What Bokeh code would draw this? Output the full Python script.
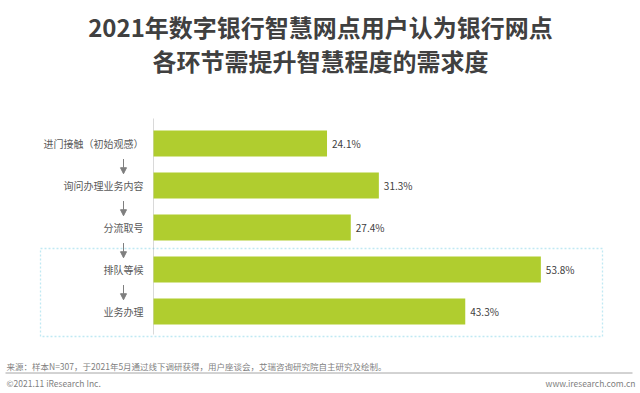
from bokeh.plotting import figure
from bokeh.models import Range1d, Label, Arrow, NormalHead, BoxAnnotation, ColumnDataSource
from bokeh.core.properties import value
from bokeh.embed import file_html
from bokeh.resources import INLINE

# ---- data ----
categories = ["进门接触（初始观感）", "询问办理业务内容", "分流取号", "排队等候", "业务办理"]
values = [24.1, 31.3, 27.4, 53.8, 43.3]
value_labels = ["24.1%", "31.3%", "27.4%", "53.8%", "43.3%"]
title_lines = ["2021年数字银行智慧网点用户认为银行网点", "各环节需提升智慧程度的需求度"]
source_text = "来源：样本N=307，于2021年5月通过线下调研获得，用户座谈会，艾瑞咨询研究院自主研究及绘制。"
copyright_text = "©2021.11 iResearch Inc."
site_text = "www.iresearch.com.cn"

W, H = 640, 393
PX_PER = 7.2          # pixels per percentage point
ZERO_X = 153          # canvas px of value 0
ROW = 42              # pixels per category row
FIRST_Y = 143         # canvas px of first row center

FONT = "Noto Sans CJK SC"
BAR = "#b0cd2f"


def X(px):  # canvas px -> data x
    return (px - ZERO_X) / PX_PER


def Y(py):  # canvas px -> data y
    return (py - FIRST_Y) / ROW


p = figure(width=W, height=H,
           x_range=Range1d(-ZERO_X / PX_PER, (W - ZERO_X) / PX_PER),
           y_range=Range1d((H - FIRST_Y) / ROW, -FIRST_Y / ROW),
           output_backend="svg", toolbar_location=None,
           x_axis_location=None, y_axis_location=None,
           min_border=0, outline_line_color=None)
p.grid.visible = False
p.background_fill_color = "white"
p.border_fill_color = "white"

idx = list(range(len(categories)))
src = ColumnDataSource(dict(y=idx, v=values, cat=categories, lab=value_labels))

# baseline (vertical axis line)
p.segment(x0=[0], y0=[Y(118)], x1=[0], y1=[Y(334)], line_color="#d9d9d9", line_width=1)

# bars
p.hbar(y="y", left=0, right="v", height=26 / ROW, source=src,
       fill_color=BAR, line_color=None)

# value labels
p.text(x="v", y="y", text="lab", source=src, x_offset=5,
       text_align="left", text_baseline="middle",
       text_font=value(FONT), text_font_size="10px", text_color="#404040")

# category labels
p.text(x=X(143), y="y", text="cat", source=src,
       text_align="right", text_baseline="middle",
       text_font=value(FONT), text_font_size="10px", text_color="#595959")

# arrows between steps
for i in range(len(categories) - 1):
    p.add_layout(Arrow(end=NormalHead(size=6, fill_color="#7f7f7f", line_color="#7f7f7f"),
                       x_start=X(123), x_end=X(123),
                       y_start=i + 0.37, y_end=i + 0.72,
                       line_color="#7f7f7f", line_width=1))

# dotted highlight box
p.add_layout(BoxAnnotation(left=X(40), right=X(602), top=Y(248), bottom=Y(336),
                           fill_alpha=0, line_color="#2fb6d6", line_width=1.3,
                           line_dash="2 2"))

# title
for t, yy in zip(title_lines, [26, 60]):
    p.add_layout(Label(x=X(320), y=Y(yy), text=t, text_align="center",
                       text_baseline="middle", text_font=FONT, text_font_size="24px",
                       text_font_style="bold", text_color="#404040"))

# footer
p.add_layout(Label(x=X(6), y=Y(365), text=source_text, text_align="left",
                   text_baseline="middle", text_font=FONT, text_font_size="8.5px",
                   text_color="#7f7f7f"))
p.segment(x0=[X(5)], y0=[Y(372.5)], x1=[X(632)], y1=[Y(372.5)],
          line_color="#a6a6a6", line_width=1)
p.add_layout(Label(x=X(6), y=Y(382), text=copyright_text, text_align="left",
                   text_baseline="middle", text_font=FONT, text_font_size="8.5px",
                   text_color="#7f7f7f"))
p.add_layout(Label(x=X(635), y=Y(382), text=site_text, text_align="right",
                   text_baseline="middle", text_font=FONT, text_font_size="8.5px",
                   text_color="#7f7f7f"))

open("out.html", "w").write(file_html(p, INLINE))
